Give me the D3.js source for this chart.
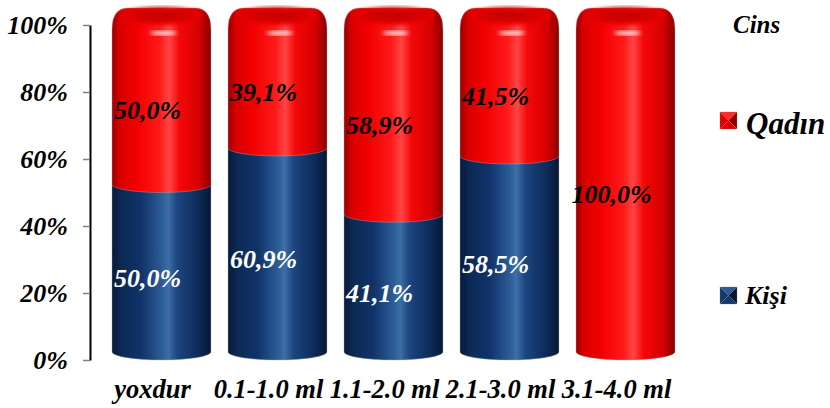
<!DOCTYPE html>
<html>
<head>
<meta charset="utf-8">
<script src="https://cdn.jsdelivr.net/npm/d3@7"></script>
<style>
  body { margin: 0; background: #fff; }
</style>
</head>
<body>
<div id="chart"></div>
<script>
// dane wykresu
const categories = ["yoxdur", "0.1-1.0 ml", "1.1-2.0 ml", "2.1-3.0 ml", "3.1-4.0 ml"];
const kisi = [50.0, 60.9, 41.1, 58.5, 0];
const qadin = [50.0, 39.1, 58.9, 41.5, 100.0];
const yTicks = [0, 20, 40, 60, 80, 100];
const legendTitle = "Cins";
const seriesNames = ["Qadın", "Kişi"];

const width = 830, height = 408;
const ry = 8; // wysokość elipsy cylindra
const FONT = "\"Liberation Serif\", \"Times New Roman\", serif";

// wspólny styl tekstu
function serif(sel, size) {
    return sel.style("font-family", FONT)
        .style("font-weight", "bold")
        .style("font-style", "italic")
        .style("font-size", size + "px");
}

const svg = d3.select("#chart").append("svg")
    .attr("width", width)
    .attr("height", height);

const defs = svg.append("defs");

// gradienty cylindrów
function cylGradient(id, stops) {
    const g = defs.append("linearGradient").attr("id", id)
        .attr("x1", "0%").attr("x2", "100%").attr("y1", "0%").attr("y2", "0%");
    stops.forEach(s => g.append("stop").attr("offset", s[0]).attr("stop-color", s[1]));
}
cylGradient("redGrad", [["0%", "#9c0000"], ["8%", "#d80000"], ["25%", "#f20000"], ["48%", "#ff1a1a"], ["58%", "#ff4545"], ["68%", "#f50808"], ["88%", "#d40000"], ["100%", "#8a0000"]]);
cylGradient("blueGrad", [["0%", "#07193a"], ["10%", "#0c2a55"], ["30%", "#11336a"], ["50%", "#2c5c96"], ["57%", "#3e6ea6"], ["66%", "#1c4580"], ["88%", "#0c2a58"], ["100%", "#061634"]]);

const topGrad = defs.append("radialGradient").attr("id", "topGrad")
    .attr("cx", "50%").attr("cy", "45%").attr("r", "55%");
topGrad.append("stop").attr("offset", "0%").attr("stop-color", "#c60000");
topGrad.append("stop").attr("offset", "70%").attr("stop-color", "#d80000");
topGrad.append("stop").attr("offset", "100%").attr("stop-color", "#f00000");

defs.append("filter").attr("id", "blur")
    .append("feGaussianBlur").attr("stdDeviation", 2);

// skale
const x = d3.scaleBand()
    .domain(categories)
    .range([103.5, 683.5])
    .paddingInner(0.1466)
    .paddingOuter(0.0733);

const y = d3.scaleLinear()
    .domain([0, 100])
    .range([360, 25]);

const bw = x.bandwidth();
const rx = bw / 2;

const fmt = v => v.toFixed(1).replace(".", ",") + "%";

// dane dla segmentów
const segments = [];
categories.forEach((c, i) => {
    segments.push({ cat: c, v0: 0, v1: kisi[i], value: kisi[i], series: "kisi" });
    segments.push({ cat: c, v0: kisi[i], v1: kisi[i] + qadin[i], value: qadin[i], series: "qadin" });
});

// ścieżka segmentu cylindra
function segPath(d) {
    const x0 = x(d.cat), x1 = x0 + bw;
    const yb = y(d.v0) - ry;
    const yt = y(d.v1) - ry;
    if (d.v1 >= 100) {
        // górny segment z zaokrągloną pokrywą
        return `M${x0},${yb} A${rx},${ry} 0 0 0 ${x1},${yb} L${x1},${yt + 12}` +
            ` Q${x1},${yt - 9} ${x1 - 16},${yt - 9} L${x0 + 16},${yt - 9} Q${x0},${yt - 9} ${x0},${yt + 12} Z`;
    }
    return `M${x0},${yt} L${x0},${yb} A${rx},${ry} 0 0 0 ${x1},${yb} L${x1},${yt} Z`;
}

const drawn = segments.filter(d => d.value > 0);

// najpierw niebieskie, potem czerwone
svg.selectAll(".seg")
    .data(drawn.filter(d => d.series === "kisi").concat(drawn.filter(d => d.series === "qadin")))
    .enter().append("path")
    .attr("class", "seg")
    .attr("d", segPath)
    .attr("fill", d => d.series === "kisi" ? "url(#blueGrad)" : "url(#redGrad)")
    .attr("stroke", "rgba(170,170,170,0.6)")
    .attr("stroke-width", 0.7);

// górna powierzchnia cylindra
svg.selectAll(".topFace")
    .data(categories)
    .enter().append("ellipse")
    .attr("class", "topFace")
    .attr("cx", d => x(d) + bw / 2)
    .attr("cy", y(100) - ry - 1)
    .attr("rx", rx - 9)
    .attr("ry", ry + 1)
    .attr("fill", "url(#topGrad)")
    .attr("filter", "url(#blur)");

// odblask
svg.selectAll(".shine")
    .data(categories)
    .enter().append("ellipse")
    .attr("class", "shine")
    .attr("cx", d => x(d) + bw / 2 + 2)
    .attr("cy", y(100) + 8)
    .attr("rx", 13)
    .attr("ry", 2.5)
    .attr("fill", "#fff")
    .attr("opacity", 0.85)
    .attr("filter", "url(#blur)");

// etykiety wartości
serif(svg.selectAll(".valueLabel")
    .data(drawn)
    .enter().append("text")
    .attr("class", "valueLabel")
    .attr("x", d => x(d.cat) + bw / 2 - 14)
    .attr("y", d => y((d.v0 + d.v1) / 2) + 2)
    .attr("text-anchor", "middle")
    .attr("dominant-baseline", "central"), 26)
    .style("fill", d => d.series === "kisi" ? "#fff" : "#000")
    .text(d => fmt(d.value));

// oś Y
const yAxis = svg.append("g")
    .attr("transform", "translate(90,0)")
    .call(d3.axisLeft(y).tickValues(yTicks).tickFormat(d => d + "%").tickSize(7).tickSizeOuter(0).tickPadding(15));
yAxis.select(".domain").attr("stroke", "#000").attr("stroke-width", 2);
yAxis.selectAll(".tick line").attr("stroke", "#808080").attr("stroke-width", 1.5);
serif(yAxis.selectAll(".tick text"), 26).attr("fill", "#000");

// etykiety osi X
serif(svg.selectAll(".catLabel")
    .data(categories)
    .enter().append("text")
    .attr("class", "catLabel")
    .attr("x", d => x(d) + bw / 2 - 9)
    .attr("y", 398)
    .attr("text-anchor", "middle"), 26.5)
    .text(d => d);

// legenda
serif(svg.append("text")
    .attr("x", 733)
    .attr("y", 33), 25)
    .text(legendTitle);

const legend = [
    { name: seriesNames[0], y: 112, size: 31, tx: 746, ty: 134, light: "#ff2a2a", mid: "#e00000", dark: "#8c0000" },
    { name: seriesNames[1], y: 287, size: 26, tx: 745, ty: 304, light: "#2c5a92", mid: "#15386a", dark: "#061634" }
];

legend.forEach(l => {
    const x0 = 720, s = 17, y0 = l.y, cx = x0 + s / 2, cy = y0 + s / 2;
    const g = svg.append("g");
    // piramidka
    g.append("path").attr("d", `M${x0},${y0} L${x0 + s},${y0} L${cx},${cy} Z`).attr("fill", l.light);
    g.append("path").attr("d", `M${x0},${y0} L${cx},${cy} L${x0},${y0 + s} Z`).attr("fill", l.mid);
    g.append("path").attr("d", `M${x0 + s},${y0} L${x0 + s},${y0 + s} L${cx},${cy} Z`).attr("fill", l.dark);
    g.append("path").attr("d", `M${x0},${y0 + s} L${cx},${cy} L${x0 + s},${y0 + s} Z`).attr("fill", l.mid);
    g.append("rect").attr("x", x0).attr("y", y0).attr("width", s).attr("height", s)
        .attr("fill", "none").attr("stroke", "rgba(120,120,120,0.5)").attr("stroke-width", 0.6);
    serif(svg.append("text")
        .attr("x", l.tx)
        .attr("y", l.ty), l.size)
        .text(l.name);
});
</script>
</body>
</html>
